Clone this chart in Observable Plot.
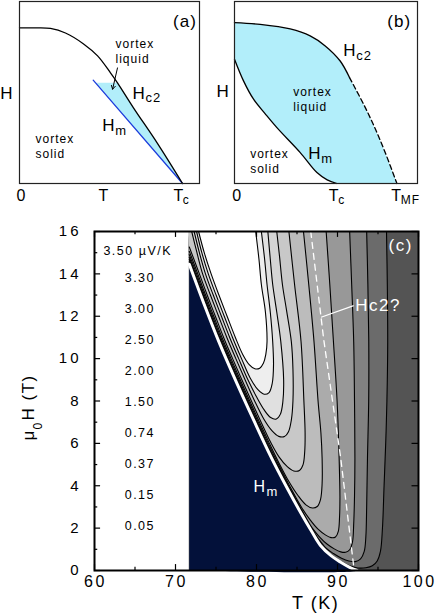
<!DOCTYPE html>
<html><head><meta charset="utf-8">
<script src="https://cdn.jsdelivr.net/npm/d3@7"></script>
<script src="https://cdn.jsdelivr.net/npm/@observablehq/plot@0.6"></script>
<style>
html,body{margin:0;padding:0;background:#fff;}
#wrap{position:relative;width:436px;height:616px;overflow:hidden;}
#pa,#pb,#pc{position:absolute;}
#pa{left:0;top:0}#pb{left:218px;top:0}#pc{left:0;top:205px}
#pa svg text,#pb svg text{letter-spacing:1px}
#pc svg text{letter-spacing:1.5px}
#pc g[aria-label="x-axis tick label"] text{letter-spacing:2.5px}
#pc g[aria-label="y-axis tick label"] text{letter-spacing:3px}
</style></head><body>
<div id="wrap"><div id="pa"></div><div id="pb"></div><div id="pc"></div></div>
<script>
// ---------- panel (a): schematic phase diagram ----------
const aHc2T = [0, 0.098, 0.190, 0.282, 0.393, 0.479, 0.558, 0.601, 0.699, 0.847, 1];
const aHc2H = [0.855, 0.855, 0.852, 0.827, 0.767, 0.701, 0.608, 0.553, 0.416, 0.219, 0];
const aHmT = [0.452, 1];
const aHmH = [0.568, 0];
const aLiqT = [0.467, 0.601, 0.699, 0.847, 1];
const aLiqH = [0.553, 0.553, 0.416, 0.219, 0];

// ---------- panel (b): schematic phase diagram ----------
const bHc2T = [0, 0.251, 0.544, 0.739, 0.886, 1.032, 1.123];
const bHc2H = [0.884, 0.874, 0.849, 0.811, 0.756, 0.673, 0.582];
const bHc2dT = [1.123, 1.293, 1.439, 1.586];
const bHc2dH = [0.582, 0.399, 0.216, 0];
const bHmT = [0, 0.088, 0.186, 0.300, 0.414, 0.642, 0.805, 0.905, 1];
const bHmH = [0.683, 0.564, 0.463, 0.383, 0.307, 0.170, 0.060, 0.020, 0];

// ---------- panel (c): Nernst-signal contour map ----------
const xDomain = [60, 100];
const yDomain = [0, 16];
const xMajor = [60, 70, 80, 90, 100];
const xMinor = [65, 75, 85, 95];
const yMajor = [0, 2, 4, 6, 8, 10, 12, 14, 16];
const yMinor = [1, 3, 5, 7, 9, 11, 13, 15];
const tRange = [71.7, 100];            // measured temperature range
const levels = [0.05, 0.15, 0.37, 0.74, 1.50, 2.00, 2.50, 3.00, 3.30, 3.50]; // µV/K
const unit = "µV/K";
// melting line Hm (T, H)
const hmT = [71.7, 73.5, 75.35, 77.5, 79.67, 81.8, 83.7, 85.5, 86.8, 87.9, 89.2, 90.4, 91.5, 92.4];
const hmH = [14.45, 12.6, 10.8, 8.9, 7.08, 5.35, 3.95, 2.7, 1.85, 1.18, 0.7, 0.39, 0.15, 0];
// dashed "Hc2?" line
const hc2qT = [86.7, 88.3, 90.4, 92.0];
const hc2qH = [16, 10.9, 5.3, 0.2];
// contour lines [T, H], one per level
const c005 = [[71.7,14.57],[72.27,14],[73.23,13],[74.24,12],[75.26,11],[76.37,10],[77.51,9],[78.69,8],[79.89,7],[81.12,6],[82.4,5],[83.75,4],[85.19,3],[86.69,2],[87.55,1.5],[88.51,1.0],[89.4,0.7],[90.5,0.42],[91.5,0.22],[92.5,0.12],[93.5,0.13],[94.3,0.22],[94.9,0.45],[95.3,0.9],[95.55,2],[95.75,4],[95.95,6],[96.1,8],[96.2,10.8],[96.15,13.5],[96.05,16]];
const c015 = [[71.7,14.68],[72.37,14],[73.33,13],[74.34,12],[75.36,11],[76.47,10],[77.61,9],[78.79,8],[79.99,7],[81.22,6],[82.5,5],[83.85,4],[85.29,3],[86.79,2],[87.65,1.5],[88.6,1.05],[89.5,0.8],[90.5,0.58],[91.4,0.45],[92.2,0.42],[92.85,0.55],[93.3,0.9],[93.5,1.6],[93.6,3],[93.7,5.3],[93.85,8],[93.86,10.8],[93.75,13.5],[93.6,16]];
const c037 = [[71.7,14.78],[72.47,14],[73.43,13],[74.44,12],[75.46,11],[76.57,10],[77.71,9],[78.89,8],[80.09,7],[81.32,6],[82.6,5],[83.95,4],[85.39,3],[86.89,2],[87.8,1.58],[88.7,1.25],[89.6,1.02],[90.4,0.88],[91.0,0.86],[91.5,0.98],[91.85,1.35],[92.0,2.2],[92.1,3.5],[92.15,5.3],[92.1,8],[92.0,10.8],[91.75,13.5],[91.5,16]];
const c074 = [[71.7,14.91],[72.6,14],[73.56,13],[74.57,12],[75.59,11],[76.7,10],[77.84,9],[79.02,8],[80.22,7],[81.45,6],[82.73,5],[84.08,4],[85.5,3.02],[86.6,2.4],[87.6,1.95],[88.5,1.68],[89.2,1.55],[89.75,1.58],[90.1,1.85],[90.25,2.5],[90.3,3.5],[90.2,5.3],[89.95,8],[89.5,10.8],[89.05,13.5],[88.6,16]];
const c150 = [[71.7,15.07],[72.75,14],[73.71,13],[74.72,12],[75.74,11],[76.85,10],[77.99,9],[79.17,8],[80.37,7],[81.6,6],[82.85,5.02],[84.0,4.2],[85.1,3.55],[86.1,3.1],[86.9,2.95],[87.5,3.02],[87.9,3.35],[88.1,4.1],[88.1,5.3],[87.95,6.5],[87.6,8],[87.1,10.8],[86.45,13.5],[85.8,16]];
const c200 = [[71.7,15.27],[72.95,14],[73.91,13],[74.92,12],[75.94,11],[77.05,10],[78.19,9],[79.37,8],[80.57,7],[81.75,6.05],[82.8,5.35],[83.8,4.9],[84.6,4.7],[85.3,4.72],[85.75,5.0],[85.95,5.6],[86.0,6.5],[85.85,8],[85.5,10.8],[84.7,13.5],[84.0,16]];
const c250 = [[72.0,16],[72.65,15],[73.35,14],[74.31,13],[75.32,12],[76.34,11],[77.45,10],[78.59,9],[79.77,8],[80.9,7.15],[81.9,6.6],[82.75,6.33],[83.45,6.32],[83.95,6.55],[84.3,7.1],[84.5,8],[84.5,9.5],[84.3,10.8],[83.7,12.3],[83.2,13.5],[82.85,14.8],[82.5,16]];
const c300 = [[72.3,16],[72.95,15],[73.7,14],[74.66,13],[75.67,12],[76.69,11],[77.8,10],[78.94,9],[80.0,8.2],[80.95,7.58],[81.75,7.22],[82.45,7.15],[82.95,7.38],[83.25,7.95],[83.35,9.0],[83.0,10.8],[82.5,12.2],[82.0,13.5],[81.7,14.7],[81.4,16]];
const c330 = [[72.6,16],[73.25,15],[74.05,14],[75.01,13],[76.02,12],[77.04,11],[78.15,10],[79.2,9.1],[80.15,8.55],[80.95,8.32],[81.55,8.4],[81.95,8.85],[82.1,9.7],[82.0,10.8],[81.7,12.2],[81.3,13.5],[81.0,14.7],[80.6,16]];
const c350 = [[72.85,16],[73.55,15],[74.4,14],[75.36,13],[76.37,12],[77.39,11],[78.3,10.2],[79.1,9.72],[79.8,9.52],[80.4,9.55],[80.85,9.78],[81.15,10.2],[81.3,10.8],[81.1,12.2],[80.6,13.5],[80.3,14.7],[79.9,16]];

// ---------- styles ----------
const FONT = '"Liberation Sans", Arial, Helvetica, sans-serif';
const LIQ = "#b2eefa";
const NAVY = "#03113a";
const BASE = "#545454";
const bandColors = ["#6b6b6b","#828282","#989898","#ababab","#bcbcbc","#c8c8c8","#d4d4d4","#e0e0e0","#eeeeee","#ffffff"];
const svgStyle = {fontFamily: FONT, fontSize: "12px", background: "transparent", overflow: "visible", color: "black"};

const zip = (a, b) => a.map((v, i) => [v, b[i]]);
const px = d => d[0], py = d => d[1];
const txt = (s, x, y, o = {}) => Plot.text([s], {x, y, text: d => d, fontSize: 12, fontFamily: FONT, ...o});
const sub = (main, s, x, y, o = {}) => [
  txt(main, x, y, {textAnchor: "start", fontSize: 17, ...o}),
  txt(s, x, y, {textAnchor: "start", fontSize: 13, dx: 13, dy: 5, ...o})
];

// ---------- (a) ----------
const aHc2 = zip(aHc2T, aHc2H), aHm = zip(aHmT, aHmH), aLiq = zip(aLiqT, aLiqH);
const plotA = Plot.plot({
  width: 218, height: 205, marginLeft: 19, marginRight: 19, marginTop: 1, marginBottom: 22,
  x: {domain: [0, 1.104], axis: null}, y: {domain: [0, 1], axis: null},
  style: svgStyle,
  marks: [
    Plot.line(aLiq, {x: px, y: py, fill: LIQ, stroke: "none"}),
    Plot.line(aHm, {x: px, y: py, stroke: "#1c3cdc", strokeWidth: 1.3}),
    Plot.line(aHc2, {x: px, y: py, stroke: "black", strokeWidth: 1.3, curve: "catmull-rom"}),
    Plot.arrow([0], {x1: 0.601, y1: 0.635, x2: 0.571, y2: 0.518, stroke: "black", strokeWidth: 1, headLength: 6}),
    txt("(a)", 1.015, 0.890, {fontSize: 17}),
    txt("vortex", 0.589, 0.767, {textAnchor: "start"}),
    txt("liquid", 0.589, 0.685, {textAnchor: "start"}),
    ...sub("H", "c2", 0.693, 0.496),
    ...sub("H", "m", 0.507, 0.318),
    txt("vortex", 0.098, 0.241, {textAnchor: "start"}),
    txt("solid", 0.098, 0.159, {textAnchor: "start"}),
    txt("H", -0.077, 0.496, {fontSize: 17}),
    txt("0", 0.012, -0.068, {fontSize: 16}),
    txt("T", 0.518, -0.068, {fontSize: 16}),
    txt("T", 0.977, -0.068, {fontSize: 16}),
    txt("c", 0.977, -0.068, {fontSize: 12, dx: 4, dy: 4.5, textAnchor: "start"}),
    Plot.frame({stroke: "#222", strokeWidth: 1.2})
  ]
});
document.getElementById("pa").append(plotA);

// ---------- (b) ----------
const bHc2 = zip(bHc2T, bHc2H), bHc2d = zip(bHc2dT, bHc2dH), bHm = zip(bHmT, bHmH);
const bLiq = bHc2.concat(bHc2d.slice(1), bHm.slice().reverse());
const plotB = Plot.plot({
  width: 218, height: 205, marginLeft: 16, marginRight: 19, marginTop: 1, marginBottom: 22,
  x: {domain: [0, 1.787], axis: null}, y: {domain: [0, 1], axis: null},
  style: svgStyle,
  marks: [
    Plot.line(bLiq, {x: px, y: py, fill: LIQ, stroke: "none", curve: "linear"}),
    Plot.line(bHc2, {x: px, y: py, stroke: "black", strokeWidth: 1.3, curve: "catmull-rom"}),
    Plot.line(bHc2d, {x: px, y: py, stroke: "black", strokeWidth: 1.3, strokeDasharray: "5,3", curve: "catmull-rom"}),
    Plot.line(bHm, {x: px, y: py, stroke: "black", strokeWidth: 1.3, curve: "catmull-rom"}),
    txt("(b)", 1.608, 0.890, {fontSize: 17}),
    ...sub("H", "c2", 1.062, 0.731),
    txt("vortex", 0.573, 0.503, {textAnchor: "start"}),
    txt("liquid", 0.573, 0.421, {textAnchor: "start"}),
    ...sub("H", "m", 0.720, 0.163),
    txt("vortex", 0.153, 0.163, {textAnchor: "start"}),
    txt("solid", 0.153, 0.081, {textAnchor: "start"}),
    txt("H", -0.110, 0.503, {fontSize: 17}),
    txt("0", 0.026, -0.068, {fontSize: 16}),
    txt("T", 0.974, -0.068, {fontSize: 16}),
    txt("c", 0.974, -0.068, {fontSize: 12, dx: 4, dy: 4.5, textAnchor: "start"}),
    txt("T", 1.584, -0.068, {fontSize: 16}),
    txt("MF", 1.584, -0.068, {fontSize: 12, dx: 4, dy: 4, textAnchor: "start"}),
    Plot.frame({stroke: "#222", strokeWidth: 1.2})
  ]
});
document.getElementById("pb").append(plotB);

// ---------- (c) ----------
const contours = [c005, c015, c037, c074, c150, c200, c250, c300, c330, c350];
const polys = contours.map(c => (c[0][1] < yDomain[1] ? [[tRange[0], yDomain[1]]] : []).concat(c));
const hm = zip(hmT, hmH);
const navyPoly = hm.concat([[tRange[0], 0]]);
const hc2q = zip(hc2qT, hc2qH);
const leaderH = 11.95;
const leaderT = (() => { // point on the dashed line at leaderH
  for (let i = 1; i < hc2q.length; i++) {
    const [t0, h0] = hc2q[i - 1], [t1, h1] = hc2q[i];
    if (leaderH <= h0 && leaderH >= h1) return t0 + (t1 - t0) * (h0 - leaderH) / (h0 - h1);
  }
  return hc2q[0][0];
})();
const labelText = levels.slice().reverse().map((v, i) => v.toFixed(2) + (i === 0 ? " " + unit : ""));
const labelData = labelText.map((s, i) => ({s, i}));
const labelH = i => i === 0 ? 15.07 : 13.8 - (i - 1) * 1.465;

const bands = polys.map((p, i) => Plot.line(p, {x: px, y: py, fill: bandColors[i], stroke: "none", curve: "catmull-rom"}));
const clines = contours.map(c => Plot.line(c, {x: px, y: py, stroke: "black", strokeWidth: 1.1, curve: "catmull-rom"}));

const plotC = Plot.plot({
  width: 436, height: 411, marginLeft: 94, marginRight: 18, marginTop: 26, marginBottom: 46,
  x: {domain: xDomain}, y: {domain: yDomain},
  style: svgStyle,
  marks: [
    Plot.rect([0], {x1: tRange[0], x2: tRange[1], y1: yDomain[0], y2: yDomain[1], fill: BASE}),
    ...bands,
    Plot.line(navyPoly, {x: px, y: py, fill: NAVY, stroke: "none", curve: "catmull-rom"}),
    ...clines,
    Plot.line(hm, {x: px, y: py, stroke: "white", strokeWidth: 3, curve: "catmull-rom"}),
    Plot.line(hc2q, {x: px, y: py, stroke: "white", strokeWidth: 1.3, strokeDasharray: "6,5"}),
    Plot.link([0], {x1: leaderT, y1: leaderH, x2: 92.0, y2: 12.5, stroke: "white", strokeWidth: 1.2}),
    txt("Hc2?", 92.2, 12.5, {textAnchor: "start", fill: "white", fontSize: 17}),
    txt("(c)", 97.8, 15.33, {fill: "white", fontSize: 17}),
    txt("H", 79.63, 3.96, {textAnchor: "start", fill: "white", fontSize: 16}),
    txt("m", 79.63, 3.96, {textAnchor: "start", fill: "white", fontSize: 13, dx: 13, dy: 5.5}),
    Plot.text(labelData.slice(0, 1), {x: 61.1, y: d => labelH(d.i), text: d => d.s, textAnchor: "start", fontSize: 12.5, fontFamily: FONT}),
    Plot.text(labelData.slice(1), {x: 65.6, y: d => labelH(d.i), text: d => d.s, fontSize: 12.5, fontFamily: FONT}),
    // inward ticks
    Plot.ruleX(xMajor, {y1: yDomain[0], y2: 0.28, stroke: "black", strokeWidth: 1.2}),
    Plot.ruleX(xMinor, {y1: yDomain[0], y2: 0.15, stroke: "black", strokeWidth: 1.2}),
    Plot.ruleX(xMajor, {y1: yDomain[1], y2: 15.72, stroke: "black", strokeWidth: 1.2}),
    Plot.ruleX(xMinor, {y1: yDomain[1], y2: 15.85, stroke: "black", strokeWidth: 1.2}),
    Plot.ruleY(yMajor, {x1: xDomain[0], x2: 60.75, stroke: "black", strokeWidth: 1.2}),
    Plot.ruleY(yMinor, {x1: xDomain[0], x2: 60.4, stroke: "black", strokeWidth: 1.2}),
    Plot.ruleY(yMajor, {x1: xDomain[1], x2: 99.2, stroke: "black", strokeWidth: 1.2}),
    Plot.frame({stroke: "black", strokeWidth: 2}),
    Plot.axisX({ticks: xMajor, tickSize: 0, tickPadding: 5, fontSize: 16, label: null, dx: 1}),
    Plot.axisY({ticks: yMajor, tickSize: 0, tickPadding: 13, fontSize: 15, label: null}),
    txt("T (K)", 87.3, 0, {fontSize: 18, dy: 33}),
    txt("μ", 51.8, 6.13, {textAnchor: "start", rotate: -90, fontSize: 17}),
    txt("0", 53.1, 6.65, {textAnchor: "start", rotate: -90, fontSize: 12}),
    txt("H (T)", 51.8, 7.08, {textAnchor: "start", rotate: -90, fontSize: 17})
  ]
});
document.getElementById("pc").append(plotC);
</script>
</body></html>
